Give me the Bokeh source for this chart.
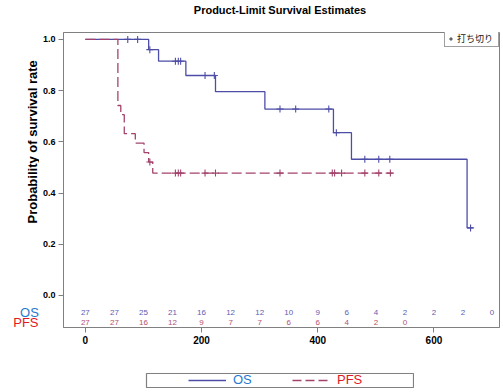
import numpy as np
from bokeh.plotting import figure
from bokeh.models import (FixedTicker, PrintfTickFormatter, Legend, LegendItem, Spacer, Range1d)
from bokeh.layouts import column, row
from bokeh.core.properties import value
from bokeh.embed import file_html
from bokeh.resources import INLINE

# ---------------- data ----------------
os_times = [0, 109, 126, 173, 224, 309, 427, 458, 657, 667]
os_surv = [1.0, 0.96, 0.915, 0.859, 0.796, 0.728, 0.636, 0.532, 0.264, 0.264]
os_censor = [73, 90, 111, 155, 160, 164, 206, 222, 335, 362, 419, 432, 481, 505, 524, 663]

pfs_times = [0, 56, 61, 67, 86, 101, 109, 116, 529]
pfs_surv = [1.0, 0.742, 0.706, 0.632, 0.595, 0.558, 0.521, 0.478, 0.478]
pfs_censor = [111, 155, 160, 164, 206, 224, 335, 425, 429, 441, 481, 505, 525]

risk_times_os = [0, 50, 100, 150, 200, 250, 300, 350, 400, 450, 500, 550, 600, 650, 700]
os_risk = [27, 27, 25, 21, 16, 12, 12, 10, 9, 6, 4, 2, 2, 2, 0]
risk_times_pfs = [0, 50, 100, 150, 200, 250, 300, 350, 400, 450, 500, 550]
pfs_risk = [27, 27, 16, 12, 9, 7, 7, 6, 6, 4, 2, 0]

x_ticks = [0, 200, 400, 600]
y_ticks = [0.0, 0.2, 0.4, 0.6, 0.8, 1.0]

title_text = "Product-Limit Survival Estimates"
y_label_text = "Probability of survival rate"
censor_label = "打ち切り"
series_names = ["OS", "PFS"]

# ---------------- styles ----------------
OS_COLOR = "#4d4da8"
PFS_COLOR = "#a3436b"
OS_RISK_COLOR = "#5c5cb4"
PFS_RISK_COLOR = "#b4506f"
OS_LABEL_COLOR = "#1f7ad2"
PFS_LABEL_COLOR = "#e01a22"
FRAME_COLOR = "#808080"
FONT = "Liberation Sans"

OS_ROW_Y = -0.066
PFS_ROW_Y = -0.106


def surv_at(times, surv, t):
    idx = np.searchsorted(np.asarray(times), np.asarray(t), side="right") - 1
    return np.asarray(surv)[idx]


y_range = Range1d(-0.125, 1.027)

# ---------------- title strip ----------------
tf = figure(width=501, height=20, x_range=(0, 501), y_range=(0, 20),
            x_axis_type=None, y_axis_type=None, toolbar_location=None,
            output_backend="svg", min_border=0, outline_line_color=None,
            background_fill_color="white", border_fill_color="white")
tf.grid.visible = False
tf.text(x=[279.5], y=[11], text=[title_text], text_font=value(FONT), text_font_size="11px",
        text_font_style="bold", text_color="#000000", text_align="center",
        text_baseline="middle")

# ---------------- main plot ----------------
p = figure(width=462, height=352, x_range=(-37.6, 712.8), y_range=y_range,
           output_backend="svg", toolbar_location=None,
           min_border_left=21, min_border_right=2, min_border_top=12, min_border_bottom=45,
           background_fill_color="white", border_fill_color="white")

p.xgrid.visible = False
p.ygrid.visible = False
p.outline_line_color = FRAME_COLOR
p.outline_line_width = 1

for ax in (p.xaxis[0], p.yaxis[0]):
    ax.axis_line_color = FRAME_COLOR
    ax.major_tick_line_color = FRAME_COLOR
    ax.major_tick_out = 5
    ax.major_tick_in = 0
    ax.minor_tick_out = 0
    ax.minor_tick_in = 0
    ax.major_label_text_font = FONT
    ax.major_label_text_font_style = "bold"
    ax.major_label_text_color = "#000000"

p.xaxis[0].ticker = FixedTicker(ticks=x_ticks)
p.xaxis[0].major_label_text_font_size = "10px"
p.xaxis[0].major_label_standoff = 3
p.yaxis[0].ticker = FixedTicker(ticks=y_ticks)
p.yaxis[0].formatter = PrintfTickFormatter(format="%.1f")
p.yaxis[0].major_label_text_font_size = "9px"
p.yaxis[0].major_label_standoff = 3

# survival curves
p.step(x=os_times, y=os_surv, mode="after", line_color=OS_COLOR, line_width=1.3)
p.step(x=pfs_times, y=pfs_surv, mode="after", line_color=PFS_COLOR, line_width=1.3,
       line_dash="10 4")

# censor marks
p.scatter(x=os_censor, y=surv_at(os_times, os_surv, os_censor), marker="cross", size=7,
          line_color=OS_COLOR, line_width=1.1)
p.scatter(x=pfs_censor, y=surv_at(pfs_times, pfs_surv, pfs_censor), marker="cross", size=7,
          line_color=PFS_COLOR, line_width=1.1)

# at-risk numbers
p.text(x=risk_times_os, y=[OS_ROW_Y] * len(os_risk), text=[str(v) for v in os_risk],
       text_font=value(FONT), text_font_size="8px", text_color=OS_RISK_COLOR,
       text_align="center", text_baseline="middle")
p.text(x=risk_times_pfs, y=[PFS_ROW_Y] * len(pfs_risk), text=[str(v) for v in pfs_risk],
       text_font=value(FONT), text_font_size="8px", text_color=PFS_RISK_COLOR,
       text_align="center", text_baseline="middle")

# censor legend inset (glyph source point lies outside the visible range)
cens_r = p.scatter(x=[-1000], y=[-10], marker="cross", size=6, line_color="#303030", line_width=1)
leg_c = Legend(items=[LegendItem(label=value(censor_label), renderers=[cens_r])],
               location=(381, 280), margin=0, padding=1, spacing=0,
               glyph_width=9, glyph_height=11, label_height=11, label_width=40,
               label_standoff=2,
               label_text_font="Noto Sans CJK JP", label_text_font_size="9px",
               label_text_color="#202020",
               border_line_color="#404040", border_line_width=1,
               background_fill_color="white", background_fill_alpha=1)
p.add_layout(leg_c)

# ---------------- left strip: row labels and y label ----------------
lp = figure(width=39, height=352, x_range=(0, 39), y_range=y_range,
            x_axis_type=None, y_axis_type=None, toolbar_location=None,
            output_backend="svg", min_border_left=0, min_border_right=0,
            min_border_top=12, min_border_bottom=45, outline_line_color=None,
            background_fill_color="white", border_fill_color="white")
lp.grid.visible = False
lp.text(x=[29], y=[OS_ROW_Y], text=[series_names[0]], text_font=value(FONT),
        text_font_size="13px", text_color=OS_LABEL_COLOR, text_align="center",
        text_baseline="middle")
lp.text(x=[38], y=[PFS_ROW_Y], text=[series_names[1]], text_font=value(FONT),
        text_font_size="13px", text_color=PFS_LABEL_COLOR, text_align="right",
        text_baseline="middle")
lp.text(x=[32], y=[0.6], text=[y_label_text], angle=np.pi / 2, text_font=value(FONT),
        text_font_size="13px", text_font_style="bold", text_color="#000000",
        text_align="center", text_baseline="middle")

# ---------------- bottom legend ----------------
lf = figure(width=269, height=16, x_range=(0, 1), y_range=(0, 1),
            x_axis_type=None, y_axis_type=None, toolbar_location=None,
            output_backend="svg", min_border=1,
            outline_line_color=FRAME_COLOR, outline_line_width=1.2,
            background_fill_color="white", border_fill_color="white")
lf.grid.visible = False
r_os = lf.line(x=[-10, -9], y=[-10, -10], line_color=OS_COLOR, line_width=1.3)
r_pfs = lf.line(x=[-10, -9], y=[-10, -10], line_color=PFS_COLOR, line_width=1.3,
                line_dash="9 4")

common = dict(padding=0, margin=0, spacing=0, border_line_alpha=0, background_fill_alpha=0,
              glyph_width=38, glyph_height=14, label_height=14, label_standoff=7,
              label_text_font=FONT, label_text_font_size="13px")
leg_os = Legend(items=[LegendItem(label=value(series_names[0]), renderers=[r_os])],
                location=(42, 0), label_text_color=OS_LABEL_COLOR, **common)
leg_pfs = Legend(items=[LegendItem(label=value(series_names[1]), renderers=[r_pfs])],
                 location=(146, 0), label_text_color=PFS_LABEL_COLOR, **common)
lf.add_layout(leg_os)
lf.add_layout(leg_pfs)

layout = column(tf, row(lp, p), row(Spacer(width=145, height=16), lf))

open("out.html", "w").write(file_html(layout, INLINE))
